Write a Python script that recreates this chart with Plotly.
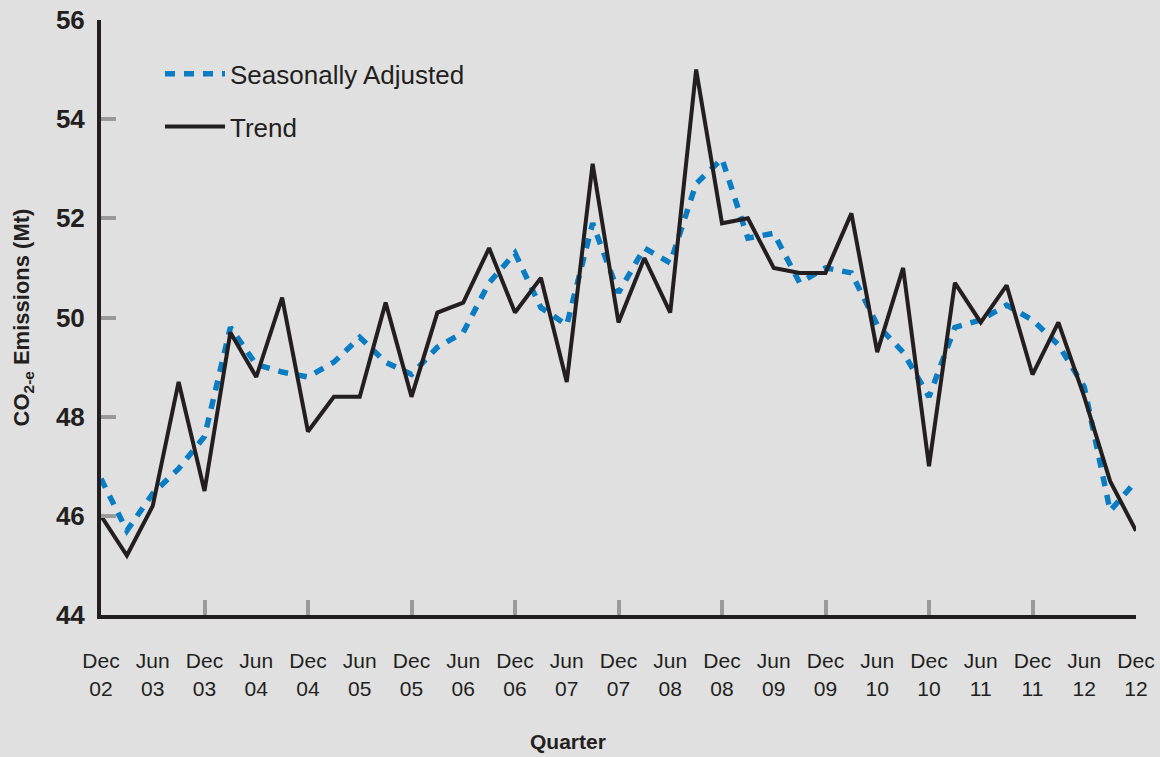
import plotly.graph_objects as go

quarter_index = list(range(41))
tick_pos = list(range(0, 41, 2))
tick_text = ["Dec<br>02", "Jun<br>03", "Dec<br>03", "Jun<br>04", "Dec<br>04", "Jun<br>05",
             "Dec<br>05", "Jun<br>06", "Dec<br>06", "Jun<br>07", "Dec<br>07", "Jun<br>08",
             "Dec<br>08", "Jun<br>09", "Dec<br>09", "Jun<br>10", "Dec<br>10", "Jun<br>11",
             "Dec<br>11", "Jun<br>12", "Dec<br>12"]
dec_ticks = list(range(0, 41, 4))

seasonally_adjusted = [46.75, 45.7, 46.45, 46.95, 47.6, 49.8, 49.05, 48.9, 48.8, 49.1,
                       49.6, 49.1, 48.85, 49.4, 49.7, 50.7, 51.3, 50.2, 49.85, 51.9,
                       50.5, 51.4, 51.1, 52.7, 53.2, 51.6, 51.7, 50.7, 51.0, 50.9,
                       49.85, 49.3, 48.4, 49.8, 49.95, 50.25, 49.95, 49.45, 48.6, 46.1,
                       46.7]
trend = [46.0, 45.2, 46.2, 48.7, 46.5, 49.7, 48.8, 50.4, 47.7, 48.4,
         48.4, 50.3, 48.4, 50.1, 50.3, 51.4, 50.1, 50.8, 48.7, 53.1,
         49.9, 51.2, 50.1, 55.0, 51.9, 52.0, 51.0, 50.9, 50.9, 52.1,
         49.3, 51.0, 47.0, 50.7, 49.9, 50.65, 48.85, 49.9, 48.4, 46.7,
         45.7]
y_ticks = [44, 46, 48, 50, 52, 54, 56]

FONT = "Arial, Liberation Sans, sans-serif"
DARK = "#231f20"
GRID = "#9a9a9a"
BG = "#e0e0e0"
BLUE = "#0a7cc4"

fig = go.Figure()
fig.add_trace(go.Scatter(x=quarter_index, y=seasonally_adjusted, mode="lines",
                         name="Seasonally Adjusted", legendgroup="a",
                         line=dict(color=BLUE, width=5.5, dash="10px,9px")))
fig.add_trace(go.Scatter(x=quarter_index, y=trend, mode="lines", name="Trend",
                         legendgroup="b",
                         line=dict(color=DARK, width=4)))

fig.update_layout(
    width=1160, height=757,
    paper_bgcolor=BG, plot_bgcolor=BG,
    margin=dict(l=101, r=24, t=20, b=142, autoexpand=False),
    font=dict(family=FONT, color=DARK),
    showlegend=True,
    legend=dict(x=0.057, y=0.949, xanchor="left", yanchor="top",
                bgcolor="rgba(0,0,0,0)", font=dict(size=26, color=DARK),
                traceorder="grouped", tracegroupgap=16, itemwidth=60),
    xaxis=dict(range=[0, 40], tickmode="array", tickvals=tick_pos, ticktext=tick_text,
               ticks="", showgrid=False, zeroline=False, showline=True, automargin=False,
               linecolor=DARK, linewidth=4, tickfont=dict(size=21, color=DARK),
               ticklabelstandoff=24),
    xaxis2=dict(range=[0, 40], overlaying="x", anchor="y", side="bottom",
                tickmode="array", tickvals=dec_ticks, ticks="inside", ticklen=15,
                tickwidth=4, tickcolor=GRID, showticklabels=False, showgrid=False,
                zeroline=False, showline=False, automargin=False),
    yaxis=dict(range=[44, 56], tickmode="array", tickvals=y_ticks, ticks="inside",
               ticklen=15, tickwidth=4, tickcolor=GRID, showgrid=False, zeroline=False,
               showline=True, linecolor=DARK, linewidth=4, ticklabelstandoff=7,
               automargin=False,
               tickfont=dict(size=26, color=DARK, family=FONT, weight="bold"),
               title=dict(text="CO<sub>2-e</sub> Emissions (Mt)",
                          font=dict(size=22, color=DARK, weight="bold"), standoff=21)),
)
fig.add_trace(go.Scatter(x=[None], y=[None], xaxis="x2", showlegend=False,
                         hoverinfo="skip"))
fig.add_annotation(text="Quarter", xref="paper", yref="paper", x=0.451, y=-0.2134,
                   xanchor="center", yanchor="middle", showarrow=False,
                   font=dict(size=21, color=DARK, weight="bold"))

fig.write_html("out.html", config={"displayModeBar": False},
               post_script="document.body.style.margin='0';")
